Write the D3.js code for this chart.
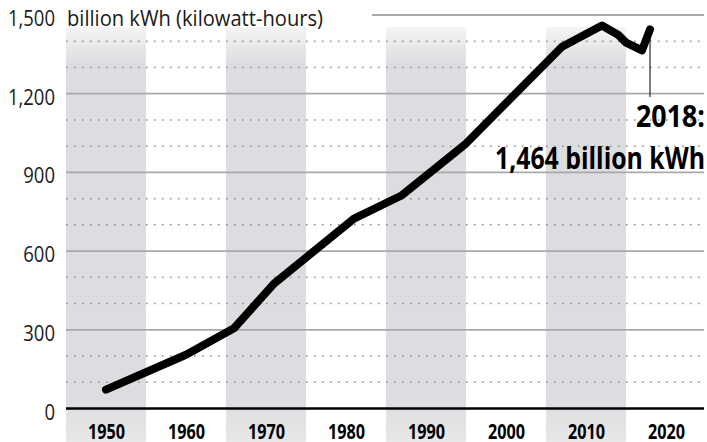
<!DOCTYPE html>
<html>
<head>
<meta charset="utf-8">
<script src="https://cdn.jsdelivr.net/npm/d3@7"></script>
<style>
  html, body { margin: 0; padding: 0; background: #fff; }
  svg { display: block; }
</style>
</head>
<body>
<svg id="chart" width="707" height="442"></svg>
<script>
// ---- data ----
const years  = [1950, 1960, 1966, 1971, 1981, 1987, 1995, 2007, 2012, 2014, 2015, 2017, 2018];
const values = [72,   205,  306,  476,  724,  813,  1010, 1379, 1460, 1425, 1395, 1365, 1445];
const decadeLabels = [1950, 1960, 1970, 1980, 1990, 2000, 2010, 2020];
const bandStarts = [1945, 1965, 1985, 2005];
const majorTicks = [0, 300, 600, 900, 1200, 1500];
const minorTicks = [100, 200, 400, 500, 700, 800, 1000, 1100, 1300, 1400];
const unitLabel = "billion kWh (kilowatt-hours)";
const noteLine1 = "2018:";
const noteLine2 = "1,464 billion kWh";

const svg = d3.select("#chart");
const x = d3.scaleLinear().domain([1945, 2024.75]).range([66, 704]);
const y = d3.scaleLinear().domain([0, 1500]).range([408.5, 15]);

// gradient for bands
const defs = svg.append("defs");
const grad = defs.append("linearGradient").attr("id", "bandGrad")
  .attr("gradientUnits", "userSpaceOnUse")
  .attr("x1", 0).attr("x2", 0).attr("y1", 27).attr("y2", 442);
grad.append("stop").attr("offset", "0%").attr("stop-color", "#f4f4f5");
grad.append("stop").attr("offset", "9%").attr("stop-color", "#dcdde0");
grad.append("stop").attr("offset", "90%").attr("stop-color", "#dcdde0");
grad.append("stop").attr("offset", "100%").attr("stop-color", "#e8e8ea");

svg.append("g").selectAll("rect").data(bandStarts).join("rect")
  .attr("x", d => x(d))
  .attr("width", d => x(d + 10) - x(d))
  .attr("y", 27)
  .attr("height", 442 - 27)
  .attr("fill", "url(#bandGrad)");

// minor dotted gridlines
svg.append("g").selectAll("line").data(minorTicks).join("line")
  .attr("x1", x.range()[0]).attr("x2", x.range()[1])
  .attr("y1", d => y(d)).attr("y2", d => y(d))
  .attr("stroke", "#8a8a8a").attr("stroke-width", 1.5)
  .attr("stroke-dasharray", "1.5,6.5");

// major solid gridlines
svg.append("g").selectAll("line").data(majorTicks.filter(d => d > 0)).join("line")
  .attr("x1", d => d === 1500 ? 372 : x.range()[0]).attr("x2", x.range()[1])
  .attr("y1", d => y(d)).attr("y2", d => y(d))
  .attr("stroke", "#a9a9a9").attr("stroke-width", 1.8);

// zero axis line
svg.append("line")
  .attr("x1", x.range()[0]).attr("x2", x.range()[1])
  .attr("y1", y(0)).attr("y2", y(0))
  .attr("stroke", "#000").attr("stroke-width", 2.6);

function condense(sel, factor) {
  sel.each(function() {
    const w = this.getComputedTextLength();
    d3.select(this).attr("textLength", w * factor).attr("lengthAdjust", "spacingAndGlyphs");
  });
}

// y axis labels
const yAxis = svg.append("g").attr("transform", "translate(55,0)")
  .call(d3.axisLeft(y).tickValues(majorTicks).tickFormat(d3.format(",")).tickSize(0).tickPadding(0));
yAxis.select(".domain").remove();
yAxis.selectAll("text")
  .attr("x", 0).attr("dy", null).attr("y", 10.5)
  .attr("font-family", "'Open Sans', sans-serif")
  .attr("font-size", 22).attr("fill", "#1a1a1a").attr("text-anchor", "end")
  .call(condense, 0.84);

// unit label
svg.append("text").attr("x", 67).attr("y", y(1500) + 10.5)
  .attr("font-family", "'Open Sans', sans-serif")
  .attr("font-size", 22).attr("fill", "#1a1a1a")
  .attr("textLength", 256).attr("lengthAdjust", "spacingAndGlyphs")
  .text(unitLabel);

// x axis labels
const xAxis = svg.append("g").attr("transform", `translate(0,${y(0)})`)
  .call(d3.axisBottom(x).tickValues(decadeLabels).tickFormat(d3.format("d")).tickSize(0).tickPadding(0));
xAxis.select(".domain").remove();
xAxis.selectAll("text")
  .attr("dy", null).attr("y", 30.5)
  .attr("font-family", "'Open Sans', sans-serif")
  .attr("font-weight", 700)
  .attr("font-size", 22).attr("fill", "#000")
  .attr("textLength", 37).attr("lengthAdjust", "spacingAndGlyphs");

// data line
const pts = years.map((yr, i) => [yr, values[i]]);
const line = d3.line().x(d => x(d[0])).y(d => y(d[1]));
svg.append("path").datum(pts)
  .attr("d", line)
  .attr("fill", "none").attr("stroke", "#000")
  .attr("stroke-width", 8).attr("stroke-linejoin", "round").attr("stroke-linecap", "round");

// leader line from last point
const last = pts[pts.length - 1];
svg.append("line")
  .attr("x1", x(last[0])).attr("x2", x(last[0]))
  .attr("y1", y(last[1])).attr("y2", 97)
  .attr("stroke", "#000").attr("stroke-width", 1);

// annotation
svg.append("text").attr("x", 636).attr("y", 127)
  .attr("font-family", "'Open Sans', sans-serif").attr("font-weight", 700)
  .attr("font-size", 30).attr("fill", "#000")
  .attr("textLength", 69).attr("lengthAdjust", "spacingAndGlyphs")
  .text(noteLine1);
svg.append("text").attr("x", 495).attr("y", 168.5)
  .attr("font-family", "'Open Sans', sans-serif").attr("font-weight", 700)
  .attr("font-size", 30).attr("fill", "#000")
  .attr("textLength", 210).attr("lengthAdjust", "spacingAndGlyphs")
  .text(noteLine2);
</script>
</body>
</html>
